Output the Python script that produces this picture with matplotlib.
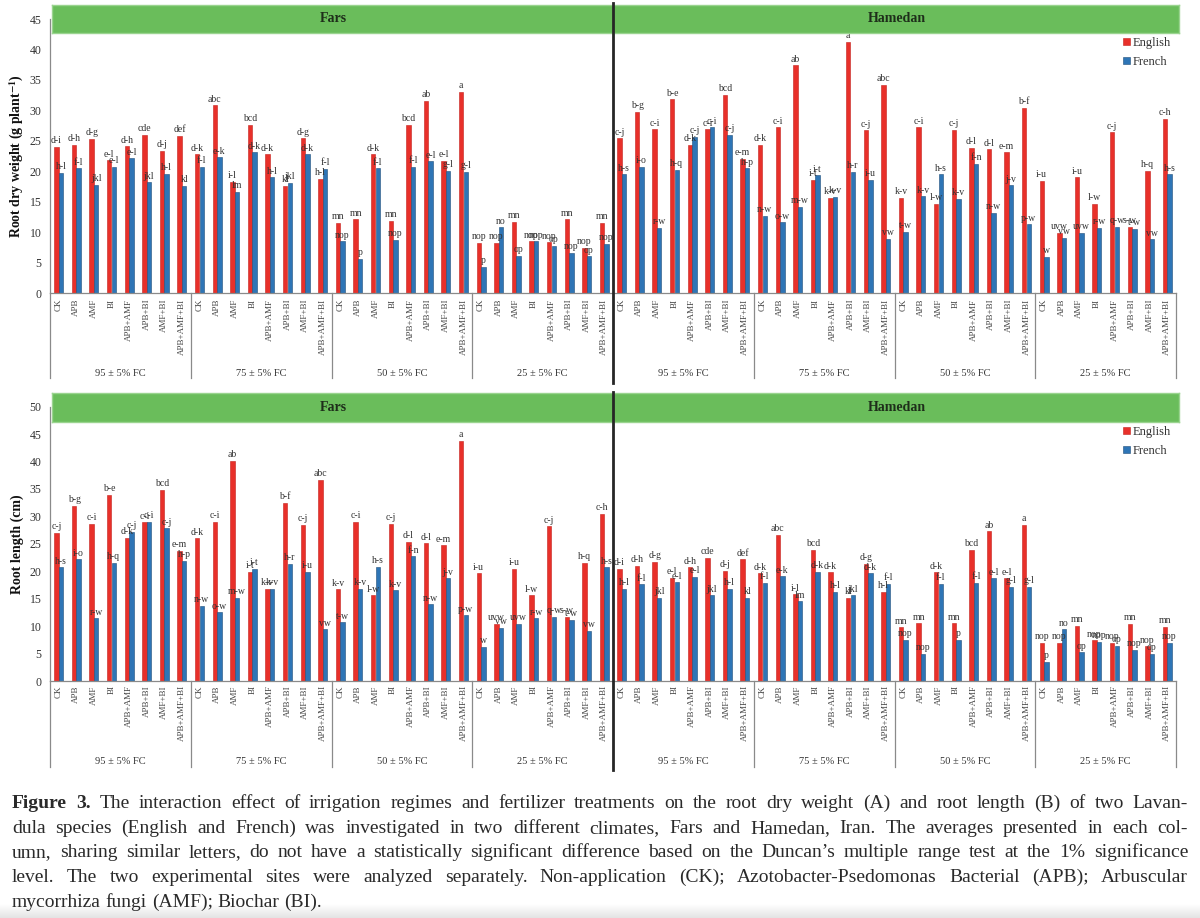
import numpy as np
import matplotlib
matplotlib.use('Agg')
import matplotlib.pyplot as plt
from matplotlib.lines import Line2D
import matplotlib.transforms as mtransforms
from matplotlib.colors import LinearSegmentedColormap

plt.rcParams['font.family'] = ['Liberation Serif', 'DejaVu Serif']
plt.rcParams['mathtext.fontset'] = 'stix'

# ---------------- data ----------------
treatments = ["CK", "APB", "AMF", "BI", "APB+AMF", "APB+BI", "AMF+BI", "APB+AMF+BI"]
regimes = ["95 ± 5% FC", "75 ± 5% FC", "50 ± 5% FC", "25 ± 5% FC"]
sites = ["Fars", "Hamedan"]
species = ["English", "French"]

# (A) Root dry weight (g plant-1), order: 95, 75, 50, 25 % FC x 8 treatments
dw_fars_english = [24.0, 24.3, 25.3, 21.8, 24.1, 26.0, 23.3, 25.8,
                   22.8, 30.8, 18.3, 27.6, 22.8, 17.6, 25.4, 18.7,
                   11.5, 12.1, 22.8, 11.9, 27.6, 31.6, 21.7, 33.0,
                   8.2, 8.2, 11.7, 8.5, 8.3, 12.1, 7.4, 11.5]
dw_fars_french = [19.7, 20.5, 17.8, 20.7, 22.1, 18.2, 19.6, 17.6,
                  20.7, 22.3, 16.6, 23.1, 19.0, 18.1, 22.8, 20.4,
                  8.5, 5.6, 20.5, 8.7, 20.7, 21.6, 20.1, 19.9,
                  4.3, 10.8, 6.1, 8.5, 7.7, 6.6, 6.0, 8.1]
dw_hamedan_english = [25.4, 29.8, 26.9, 31.8, 24.3, 26.9, 32.6, 22.0,
                      24.3, 27.2, 37.4, 18.6, 15.6, 41.3, 26.7, 34.2,
                      15.6, 27.2, 14.6, 26.8, 23.8, 23.6, 23.1, 30.4,
                      18.4, 9.9, 19.0, 14.6, 26.4, 10.9, 20.1, 28.6]
dw_hamedan_french = [19.5, 20.7, 10.7, 20.2, 25.6, 27.2, 26.0, 20.5,
                     12.7, 11.6, 14.1, 19.3, 15.8, 19.9, 18.6, 8.9,
                     10.0, 15.9, 19.5, 15.5, 21.2, 13.2, 17.7, 11.3,
                     5.9, 9.1, 9.9, 10.7, 10.9, 10.5, 8.8, 19.5]

dw_fars_english_let = ["d-i", "d-h", "d-g", "e-l", "d-h", "cde", "d-j", "def",
                       "d-k", "abc", "i-l", "bcd", "d-k", "kl", "d-g", "h-l",
                       "mn", "mn", "d-k", "mn", "bcd", "ab", "e-l", "a",
                       "nop", "nop", "mn", "nop", "nop", "mn", "nop", "mn"]
dw_fars_french_let = ["h-l", "f-l", "jkl", "e-l", "e-l", "jkl", "h-l", "kl",
                      "f-l", "e-k", "lm", "d-k", "h-l", "jkl", "d-k", "f-l",
                      "nop", "p", "f-l", "nop", "f-l", "e-l", "g-l", "g-l",
                      "p", "no", "op", "nop", "op", "nop", "op", "nop"]
dw_hamedan_english_let = ["c-j", "b-g", "c-i", "b-e", "d-k", "c-i", "bcd", "e-m",
                          "d-k", "c-i", "ab", "i-t", "k-v", "a", "c-j", "abc",
                          "k-v", "c-i", "l-w", "c-j", "d-l", "d-l", "e-m", "b-f",
                          "i-u", "uvw", "i-u", "l-w", "c-j", "s-w", "h-q", "c-h"]
dw_hamedan_french_let = ["h-s", "i-o", "r-w", "h-q", "c-j", "c-i", "c-j", "h-p",
                         "n-w", "o-w", "m-w", "i-t", "k-v", "h-r", "i-u", "vw",
                         "t-w", "k-v", "h-s", "k-v", "f-n", "n-w", "j-v", "p-w",
                         "w", "vw", "uvw", "r-w", "q-w", "t-w", "vw", "h-s"]

# (B) Root length (cm)
rl_fars_english = [27.0, 31.9, 28.7, 33.9, 26.1, 28.9, 34.8, 23.7,
                   26.0, 29.0, 40.1, 19.9, 16.8, 32.5, 28.5, 36.7,
                   16.7, 29.0, 15.6, 28.6, 25.4, 25.1, 24.7, 43.8,
                   19.6, 10.4, 20.4, 15.6, 28.2, 11.7, 21.6, 30.5]
rl_fars_french = [20.7, 22.2, 11.4, 21.6, 27.2, 29.0, 27.8, 21.9,
                  13.7, 12.5, 15.2, 20.5, 16.8, 21.3, 19.9, 9.4,
                  10.7, 16.8, 20.8, 16.5, 22.7, 14.0, 18.7, 12.0,
                  6.2, 9.7, 10.4, 11.4, 11.7, 11.1, 9.1, 20.7]
rl_hamedan_english = [20.5, 21.0, 21.7, 18.8, 20.7, 22.5, 20.1, 22.2,
                      19.6, 26.7, 15.8, 23.9, 19.8, 15.1, 21.4, 16.2,
                      9.8, 10.5, 19.8, 10.5, 23.9, 27.3, 18.7, 28.5,
                      7.0, 7.0, 10.1, 7.4, 7.0, 10.4, 6.3, 9.9]
rl_hamedan_french = [16.8, 17.6, 15.2, 18.0, 19.0, 15.6, 16.8, 15.2,
                     17.9, 19.1, 14.5, 19.9, 16.3, 15.6, 19.6, 17.7,
                     7.5, 4.9, 17.7, 7.5, 17.9, 18.7, 17.2, 17.2,
                     3.5, 9.4, 5.2, 7.2, 6.4, 5.7, 5.0, 6.9]

rl_fars_english_let = ["c-j", "b-g", "c-i", "b-e", "d-k", "c-i", "bcd", "e-m",
                       "d-k", "c-i", "ab", "i-t", "k-v", "b-f", "c-j", "abc",
                       "k-v", "c-i", "l-w", "c-j", "d-l", "d-l", "e-m", "a",
                       "i-u", "uvw", "i-u", "l-w", "c-j", "s-w", "h-q", "c-h"]
rl_fars_french_let = ["h-s", "i-o", "r-w", "h-q", "c-j", "c-i", "c-j", "h-p",
                      "n-w", "o-w", "m-w", "i-t", "k-v", "h-r", "i-u", "vw",
                      "t-w", "k-v", "h-s", "k-v", "f-n", "n-w", "j-v", "p-w",
                      "w", "vw", "uvw", "r-w", "q-w", "t-w", "vw", "h-s"]
rl_hamedan_english_let = ["d-i", "d-h", "d-g", "e-l", "d-h", "cde", "d-j", "def",
                          "d-k", "abc", "i-l", "bcd", "d-k", "kl", "d-g", "h-l",
                          "mn", "mn", "d-k", "mn", "bcd", "ab", "e-l", "a",
                          "nop", "nop", "mn", "nop", "nop", "mn", "nop", "mn"]
rl_hamedan_french_let = ["h-l", "f-l", "jkl", "e-l", "e-l", "jkl", "h-l", "kl",
                         "f-l", "e-k", "lm", "d-k", "h-l", "jkl", "d-k", "f-l",
                         "nop", "nop", "f-l", "p", "f-l", "e-l", "g-l", "g-l",
                         "p", "no", "op", "nop", "op", "nop", "op", "nop"]

caption_lines = [
    "Figure 3. The interaction effect of irrigation regimes and fertilizer treatments on the root dry weight (A) and root length (B) of two Lavan-",
    "dula species (English and French) was investigated in two different climates, Fars and Hamedan, Iran. The averages presented in each col-",
    "umn, sharing similar letters, do not have a statistically significant difference based on the Duncan\u2019s multiple range test at the 1% significance",
    "level. The two experimental sites were analyzed separately. Non-application (CK); Azotobacter-Psedomonas Bacterial (APB); Arbuscular",
    "mycorrhiza fungi (AMF); Biochar (BI).",
]

# ---------------- figure ----------------
W, H = 1200, 918
fig = plt.figure(figsize=(W / 100, H / 100), dpi=100)
fig.patch.set_facecolor('white')


def fx(px):
    return px / W


def fy(py):
    return 1 - py / H


RED = '#e8302a'
RED_E = '#c4221c'
BLUE = '#2e75b6'
BLUE_E = '#1f4e79'
GREEN = '#6abd5b'
AXC = '#8a8a8a'
TXT = '#333333'

X0, X1 = 50, 1176
n_groups = len(treatments) * len(regimes) * len(sites)


def panel(yzero, ytop, ymax, ylabel, en, fr, en_let, fr_let,
          strip_top, strip_bot, sep_bottom, reg_y, divider, legend_y, xpad):
    ax = fig.add_axes([fx(X0), fy(yzero), (X1 - X0) / W, (yzero - ytop) / H])
    ax.set_xlim(0, n_groups)
    ax.set_ylim(0, ymax)
    for s in ['top', 'right']:
        ax.spines[s].set_visible(False)
    for s in ['left', 'bottom']:
        ax.spines[s].set_color(AXC)
        ax.spines[s].set_linewidth(0.9)
    ax.set_yticks(np.arange(0, ymax + 0.1, 5))
    ax.tick_params(axis='y', length=0, pad=6, labelsize=8.5, labelcolor=TXT)
    x = np.arange(n_groups) + 0.5
    ax.set_xticks(x)
    ax.set_xticklabels(treatments * (len(regimes) * len(sites)), rotation=90,
                       fontsize=6.5, color='#444444')
    ax.tick_params(axis='x', length=0, pad=xpad)

    b1 = ax.bar(x - 0.13, en, width=0.25, color=RED, edgecolor=RED_E, linewidth=0.4, label=species[0])
    b2 = ax.bar(x + 0.13, fr, width=0.25, color=BLUE, edgecolor=BLUE_E, linewidth=0.4, label=species[1])
    for xi, v, l in zip(x - 0.13, en, en_let):
        ax.annotate(l, (xi, v), xytext=(0, 1.2), textcoords='offset points',
                    ha='center', va='bottom', fontsize=7, color=TXT)
    for xi, v, l in zip(x + 0.13, fr, fr_let):
        ax.annotate(l, (xi, v), xytext=(0, 1.2), textcoords='offset points',
                    ha='center', va='bottom', fontsize=7, color=TXT)

    trans = mtransforms.blended_transform_factory(ax.transData, ax.transAxes)
    ax_h = yzero - ytop
    sep_frac = -(sep_bottom - yzero) / ax_h
    reg_frac = -(reg_y - yzero) / ax_h
    nper = len(treatments)
    for k in range(0, n_groups + 1, nper):
        if k == n_groups // 2:
            continue
        ax.plot([k, k], [0, sep_frac], transform=trans, clip_on=False,
                color=AXC, lw=0.9)
    for si in range(len(sites)):
        for ri, rg in enumerate(regimes):
            cx = si * n_groups / 2 + ri * nper + nper / 2
            ax.text(cx, reg_frac, rg, transform=trans, ha='center', va='center',
                    fontsize=7.5, color=TXT)

    # strip header
    sax = fig.add_axes([fx(X0 + 2), fy(strip_bot), (X1 - X0 + 1) / W, (strip_bot - strip_top) / H])
    sax.set_facecolor(GREEN)
    sax.set_xlim(0, n_groups)
    sax.set_ylim(0, 1)
    sax.set_xticks([])
    sax.set_yticks([])
    for s in sax.spines.values():
        s.set_color('#9ad48f')
        s.set_linewidth(1.0)
    for si, site in enumerate(sites):
        sax.text(si * n_groups / 2 + n_groups / 4, 0.5, site, ha='center', va='center',
                 fontsize=10, fontweight='bold', color='#1e2e1a')

    # divider between sites
    xdiv = X0 + (X1 - X0) / 2
    fig.add_artist(Line2D([fx(xdiv), fx(xdiv)], [fy(divider[0]), fy(divider[1])],
                          color='#262626', lw=2.0))

    # y label
    fig.text(fx(17), fy((yzero + ytop) / 2), ylabel, rotation=90, ha='center', va='center',
             fontsize=10, fontweight='bold', color='#111111')

    ax.legend(handles=[b1, b2], labels=species, loc='upper left',
              bbox_to_anchor=(fx(1123), fy(legend_y)), bbox_transform=fig.transFigure,
              frameon=False, fontsize=9, handlelength=0.55, handleheight=0.55,
              handletextpad=0.2, labelspacing=0.55, borderpad=0, borderaxespad=0,
              labelcolor=TXT)
    return ax


panel(293, 19, 45, r"Root dry weight (g plant$^{\mathbf{-1}}$)",
      dw_fars_english + dw_hamedan_english, dw_fars_french + dw_hamedan_french,
      dw_fars_english_let + dw_hamedan_english_let, dw_fars_french_let + dw_hamedan_french_let,
      strip_top=5, strip_bot=33, sep_bottom=378, reg_y=373, divider=(3, 383),
      legend_y=37, xpad=4)

panel(681, 406.7, 50, "Root length (cm)",
      rl_fars_english + rl_hamedan_english, rl_fars_french + rl_hamedan_french,
      rl_fars_english_let + rl_hamedan_english_let, rl_fars_french_let + rl_hamedan_french_let,
      strip_top=393, strip_bot=422, sep_bottom=767, reg_y=762, divider=(392, 770),
      legend_y=426, xpad=3)

# bottom fade (screenshot edge)
gax = fig.add_axes([0, 0, 1, 14 / H], zorder=-5)
cm = LinearSegmentedColormap.from_list('fade', ['#ffffff', '#e4e4e4'])
gax.imshow(np.linspace(0, 1, 50).reshape(-1, 1), cmap=cm, aspect='auto',
           extent=[0, 1, 1, 0])
gax.axis('off')

# ---------------- caption (justified) ----------------
renderer = fig.canvas.get_renderer()


def text_width(s, size, weight):
    t = fig.text(0, 0, s, fontsize=size, fontweight=weight, family='Liberation Serif')
    w = t.get_window_extent(renderer).width
    t.remove()
    return w


LEFT, RIGHT = 12, 1188
words_lines = []
for li, line in enumerate(caption_lines):
    ws = line.split(' ')
    wl = []
    for wi, w in enumerate(ws):
        bold = (li == 0 and wi < 2)
        wl.append((w, 'bold' if bold else 'normal'))
    words_lines.append(wl)

size = 14.0
while size > 8:
    sp = text_width('x x', size, 'normal') - text_width('xx', size, 'normal')
    ok = True
    for wl in words_lines:
        tot = sum(text_width(w, size, wt) for w, wt in wl) + sp * (len(wl) - 1)
        if tot > RIGHT - LEFT:
            ok = False
            break
    if ok:
        break
    size -= 0.25

sp = text_width('x x', size, 'normal') - text_width('xx', size, 'normal')
baselines = [808, 833, 857, 882, 907]
for li, wl in enumerate(words_lines):
    widths = [text_width(w, size, wt) for w, wt in wl]
    if li < len(words_lines) - 1 and len(wl) > 1:
        gap = (RIGHT - LEFT - sum(widths)) / (len(wl) - 1)
    else:
        gap = sp
    xpos = LEFT
    for (w, wt), wd in zip(wl, widths):
        fig.text(fx(xpos), fy(baselines[li]), w, fontsize=size, fontweight=wt,
                 family='Liberation Serif', color='#2a2a2a', ha='left', va='baseline')
        xpos += wd + gap

fig.savefig('out.png', dpi=100, facecolor='white')
